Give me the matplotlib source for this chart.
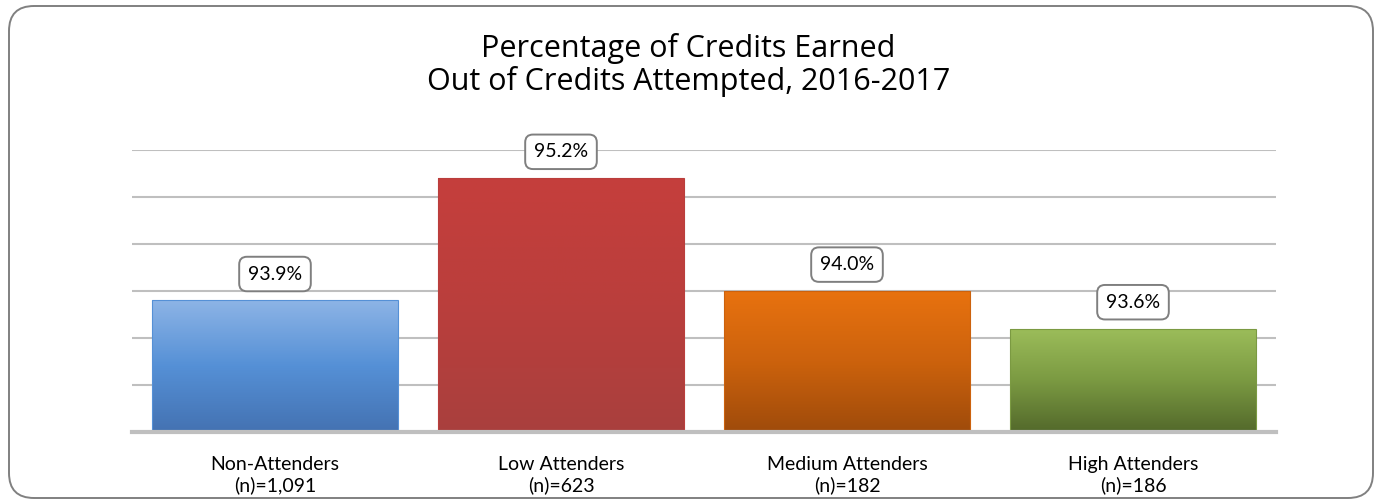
from matplotlib import pyplot as plt
from matplotlib.patches import FancyBboxPatch
from matplotlib.colors import LinearSegmentedColormap
import numpy as np

categories = ["Non-Attenders\n(n)=1,091", "Low Attenders\n(n)=623",
              "Medium Attenders\n(n)=182", "High Attenders\n(n)=186"]
values = [93.9, 95.2, 94.0, 93.6]
labels = ["93.9%", "95.2%", "94.0%", "93.6%"]
# top, middle, bottom colours of each bar gradient
gradients = [["#8DB4E6", "#5590D6", "#4472B2"],
             ["#C53F3C", "#BA3E3C", "#A9403E"],
             ["#E8720F", "#CC620D", "#9F4B0B"],
             ["#9CBD5A", "#7B9A42", "#53692B"]]

fig = plt.figure(figsize=(13.77, 5.0), dpi=100)
# rounded outer frame, in inches
fig.patches.append(FancyBboxPatch((0.09, 0.02), 13.64, 4.92,
                                  boxstyle="round,pad=0,rounding_size=0.25",
                                  transform=fig.dpi_scale_trans, facecolor="white",
                                  edgecolor="#808080", linewidth=1.4, zorder=-1))

ax = fig.add_axes([132 / 1377, (500 - 432) / 500, 1144 / 1377, 282 / 500])
ax.patch.set_alpha(0)

x = np.arange(len(values))
bars = ax.bar(x, np.array(values) - 92.5, bottom=92.5, width=0.86, zorder=3,
              linewidth=0.8)

for bar, cols in zip(bars, gradients):
    cmap = LinearSegmentedColormap.from_list("g", cols[::-1])
    bar.set_facecolor("none")
    bar.set_edgecolor(cols[1])
    x0, y0 = bar.get_x(), bar.get_y()
    grad = np.linspace(0, 1, 256).reshape(-1, 1)
    im = ax.imshow(grad, cmap=cmap, origin="lower", aspect="auto",
                   extent=[x0, x0 + bar.get_width(), y0, y0 + bar.get_height()],
                   zorder=2)
    im.set_clip_path(bar)

ax.set_xlim(-0.5, 3.5)
ax.set_ylim(92.5, 95.5)

for xi, v, lab in zip(x, values, labels):
    ax.annotate(lab, (xi, v), xytext=(0, 19), textcoords="offset points",
                ha="center", va="center", fontsize=14, family="Lato",
                bbox=dict(boxstyle="round,pad=0.45,rounding_size=0.4",
                          fc="white", ec="#7F7F7F", lw=1.4), zorder=5)

ax.set_yticks(np.arange(92.5, 95.51, 0.5))
ax.grid(axis="y", color="#BFBFBF", linewidth=1.5, zorder=0)
ax.tick_params(left=False, labelleft=False, bottom=False)
for s in ["top", "right", "left"]:
    ax.spines[s].set_visible(False)
ax.spines["bottom"].set_color("#BFBFBF")
ax.spines["bottom"].set_linewidth(3)
ax.spines["bottom"].set_zorder(4)

ax.set_xticks(x)
ax.set_xticklabels(categories, fontsize=14, family="Lato", linespacing=1.2)
ax.tick_params(axis="x", pad=14)

fig.text(0.5, 0.870, "Percentage of Credits Earned\nOut of Credits Attempted, 2016-2017",
         ha="center", va="center", fontsize=22, family="Open Sans", linespacing=1.1)

plt.savefig("out.png", dpi=100)
